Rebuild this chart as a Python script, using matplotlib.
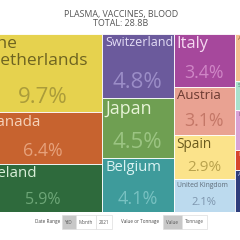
import matplotlib
matplotlib.use('Agg')
from matplotlib import pyplot as plt
from matplotlib.patches import Rectangle

plt.rcParams['font.family'] = ['Open Sans', 'DejaVu Sans']

title = 'PLASMA, VACCINES, BLOOD'
subtitle = 'TOTAL: 28.8B'

# treemap columns (share of total, %)
col_names = [
    ['The\nNetherlands', 'Canada', 'Ireland'],
    ['Switzerland', 'Japan', 'Belgium'],
    ['Italy', 'Austria', 'Spain', 'United Kingdom'],
    ['Australia', 'Sweden', 'India', 'Denmark', 'Argentina'],
]
col_values = [
    [9.7, 6.4, 5.9],
    [4.8, 4.5, 4.1],
    [3.4, 3.1, 2.9, 2.1],
    [2.1, 1.3, 1.8, 0.9, 1.9],
]
show_pct = [True, True, True, False]

fills = [
    ['#e6d24e', '#c7632f', '#2e6a3c'],
    ['#6b5a9c', '#6f9f52', '#3e9b9b'],
    ['#a6489c', '#e9a292', '#fbe38b', '#bcdaee'],
    ['#f4bd8f', '#a9e1cc', '#d9a2d6', '#d7452d', '#2f3e7c'],
]
name_colors = [
    ['#6e6421', '#f6d3bb', '#d9efd9'],
    ['#e3dcf5', '#e8f4d8', '#daf3f3'],
    ['#f5d9f1', '#6b3a31', '#6b5b1d', '#5e6b78'],
    ['#8a5a3a', '#3f6b5f', '#6b3f6a', '#f5c9bf', '#c9d2f0'],
]
pct_colors = [
    ['#ab9c3a', '#e6a17b', '#6da677'],
    ['#9b8dc7', '#9bc482', '#78c1c1'],
    ['#cf86c6', '#c47767', '#b9a24d', '#7d95ad'],
    ['#000000'] * 5,
]
name_sizes = [[12.5, 10.8, 10.8], [9.0, 12.8, 10.6], [11.8, 9.5, 9.8, 4.9], [4.5] * 5]
pct_sizes = [[16, 12.8, 11.5], [16, 16, 13], [12.8, 12.8, 11, 8], [0] * 5]

W, H = 240, 240
fig = plt.figure(figsize=(W / 100, H / 100), dpi=100)

top_px, bot_px = 34, 212
ax = fig.add_axes([0, 1 - bot_px / H, 1, (bot_px - top_px) / H])
height = 1.0
area_per_pct = 3.0 / 100  # whole treemap is 3 units wide, 1 unit tall
px = (bot_px - top_px)  # pixels per unit
left = 15.5 / px  # first column starts a little left of the picture
ax.set_xlim(left, left + W / px)
ax.set_ylim(height, 0)
ax.axis('off')

x = 0.0
for ci, vals in enumerate(col_values):
    w = sum(vals) * area_per_pct / height
    y = 0.0
    for ri, v in enumerate(vals):
        h = v / sum(vals) * height
        ax.add_patch(Rectangle((x, y), w, h, facecolor=fills[ci][ri],
                               edgecolor='white', linewidth=0.6))
        ax.annotate(col_names[ci][ri], xy=(x, y), xytext=(2.2, -1.6),
                    textcoords='offset points', ha='left', va='top',
                    fontsize=name_sizes[ci][ri], color=name_colors[ci][ri],
                    linespacing=1.05, annotation_clip=False, clip_on=True)
        if show_pct[ci]:
            ax.annotate('%.1f%%' % v, xy=(x + w / 2, y + h), xytext=(0, 3.2),
                        textcoords='offset points', ha='center', va='bottom',
                        fontsize=pct_sizes[ci][ri], color=pct_colors[ci][ri],
                        clip_on=True)
        y += h
    x += w

# header and controls in pixel space
ui = fig.add_axes([0, 0, 1, 1], zorder=-1)
ui.set_xlim(0, W)
ui.set_ylim(H, 0)
ui.axis('off')
ui.text(121, 14, title, ha='center', va='center', fontsize=6.4, color='#555555')
ui.text(121, 23, subtitle, ha='center', va='center', fontsize=6.4, color='#555555')

ui.text(60, 222, 'Date Range', ha='right', va='center', fontsize=3.3, color='#444444')
ui.text(159, 222, 'Value or Tonnage', ha='right', va='center', fontsize=3.3, color='#444444')
buttons = [('YtD', 62, 76, True), ('Month', 76, 96, False), ('2021', 96, 112, False),
           ('Value', 163, 182, True), ('Tonnage', 182, 207, False)]
for label, x0, x1, sel in buttons:
    ui.add_patch(Rectangle((x0, 215), x1 - x0, 14,
                           facecolor='#c8c8c8' if sel else 'white',
                           edgecolor='#dddddd', linewidth=0.5))
    ui.text((x0 + x1) / 2, 222, label, ha='center', va='center', fontsize=3.3,
            color='#555555')

fig.savefig('out.png', dpi=100, facecolor='white')
